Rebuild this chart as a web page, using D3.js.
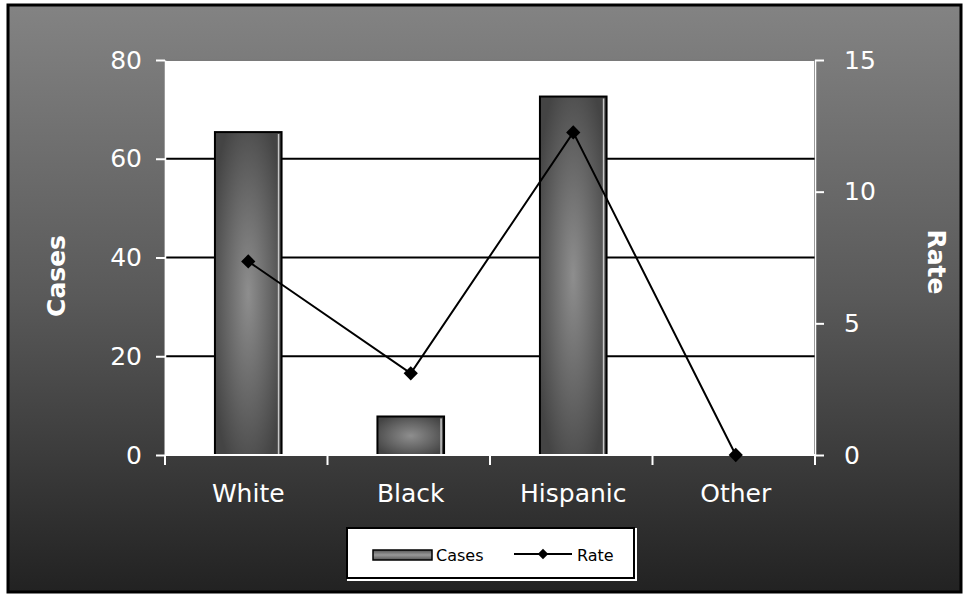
<!DOCTYPE html>
<html>
<head>
<meta charset="utf-8">
<script src="https://cdn.jsdelivr.net/npm/d3@7"></script>
<style>
  html, body { margin: 0; padding: 0; background: #fff; }
  svg { display: block; }
</style>
</head>
<body>
<div id="chart"></div>
<script>
// Cases (bars, left axis) and Rate (line, right axis) by race/ethnicity
var categories = ['White', 'Black', 'Hispanic', 'Other'];
var cases = [65.4, 7.8, 72.6, 0];
var rates = [7.35, 3.1, 12.25, 0];
var casesTicks = [0, 20, 40, 60, 80];
var rateTicks = [0, 5, 10, 15];

var W = 964, H = 594;
var FONT = "'DejaVu Sans', Verdana, sans-serif";
var plot = { left: 165, right: 815, top: 60, bottom: 455 };
var shift = 2; // marks sit slightly right of band centres

var svg = d3.select('#chart').append('svg')
    .attr('width', W).attr('height', H);

var defs = svg.append('defs');
var bg = defs.append('linearGradient').attr('id', 'bg')
    .attr('x1', 0).attr('y1', 0).attr('x2', 0).attr('y2', 1);
bg.append('stop').attr('offset', '0%').attr('stop-color', '#838383');
bg.append('stop').attr('offset', '50%').attr('stop-color', '#595959');
bg.append('stop').attr('offset', '100%').attr('stop-color', '#222222');

var barGrad = defs.append('radialGradient').attr('id', 'barGrad')
    .attr('cx', '50%').attr('cy', '50%').attr('r', '60%');
barGrad.append('stop').attr('offset', '0%').attr('stop-color', '#8e8e8e');
barGrad.append('stop').attr('offset', '55%').attr('stop-color', '#666666');
barGrad.append('stop').attr('offset', '100%').attr('stop-color', '#444444');

var legGrad = defs.append('linearGradient').attr('id', 'legGrad')
    .attr('x1', 0).attr('y1', 0).attr('x2', 0).attr('y2', 1);
legGrad.append('stop').attr('offset', '0%').attr('stop-color', '#555');
legGrad.append('stop').attr('offset', '50%').attr('stop-color', '#999');
legGrad.append('stop').attr('offset', '100%').attr('stop-color', '#555');

// chart background + frame
svg.append('rect')
    .attr('x', 8).attr('y', 5).attr('width', 953).attr('height', 587)
    .attr('fill', 'url(#bg)')
    .attr('stroke', '#000').attr('stroke-width', 3);

// scales
var x = d3.scaleBand().domain(categories)
    .range([plot.left, plot.right]).paddingInner(0.59).paddingOuter(0.295);
var xBand = d3.scaleBand().domain(categories).range([plot.left, plot.right]);
var yL = d3.scaleLinear().domain([0, 80]).range([plot.bottom, plot.top]);
var yR = d3.scaleLinear().domain([0, 15]).range([plot.bottom, plot.top]);

// plot area
svg.append('rect')
    .attr('x', plot.left).attr('y', plot.top)
    .attr('width', plot.right - plot.left).attr('height', plot.bottom - plot.top)
    .attr('fill', '#fff')
    .attr('stroke', '#7a7a7a').attr('stroke-width', 2);

// gridlines
svg.append('g').selectAll('line').data(casesTicks.filter(function (d) { return d > 0 && d < 80; }))
    .join('line')
    .attr('x1', plot.left).attr('x2', plot.right)
    .attr('y1', function (d) { return yL(d); })
    .attr('y2', function (d) { return yL(d); })
    .attr('stroke', '#000').attr('stroke-width', 2);

// bars
svg.append('g').selectAll('rect').data(categories).join('rect')
    .attr('x', function (d) { return x(d) + shift; })
    .attr('y', function (d, i) { return yL(cases[i]); })
    .attr('width', x.bandwidth())
    .attr('height', function (d, i) { return plot.bottom - yL(cases[i]); })
    .attr('fill', 'url(#barGrad)')
    .attr('stroke', '#000').attr('stroke-width', 2)
    .style('display', function (d, i) { return cases[i] > 0 ? null : 'none'; });

// bar highlight on right edge
svg.append('g').selectAll('line').data(categories).join('line')
    .attr('x1', function (d) { return x(d) + shift + x.bandwidth() - 3; })
    .attr('x2', function (d) { return x(d) + shift + x.bandwidth() - 3; })
    .attr('y1', function (d, i) { return yL(cases[i]) + 2; })
    .attr('y2', plot.bottom - 1)
    .attr('stroke', '#c8c8c8').attr('stroke-width', 1.5)
    .style('display', function (d, i) { return cases[i] > 0 ? null : 'none'; });

// axes
var axL = d3.axisLeft(yL).tickValues(casesTicks).tickSize(9).tickSizeOuter(0).tickPadding(14);
var axR = d3.axisRight(yR).tickValues(rateTicks).tickSize(9).tickSizeOuter(0).tickPadding(20);

function styleAxis(g) {
    g.selectAll('path,line').attr('stroke', '#fff').attr('stroke-width', 2);
    g.selectAll('text').attr('fill', '#fff')
        .attr('font-size', 25).attr('font-family', FONT);
}

var gl = svg.append('g').attr('transform', 'translate(' + plot.left + ',0)').call(axL);
styleAxis(gl);
gl.select('.domain').attr('stroke-width', 1.5);
var gr = svg.append('g').attr('transform', 'translate(' + plot.right + ',0)').call(axR);
styleAxis(gr);
gr.select('.domain').attr('stroke-width', 1.5);

// bottom axis line + category boundary ticks
var gb = svg.append('g');
gb.append('line')
    .attr('x1', plot.left).attr('x2', plot.right)
    .attr('y1', plot.bottom).attr('y2', plot.bottom)
    .attr('stroke', '#fff').attr('stroke-width', 2);
var bounds = categories.map(function (d) { return xBand(d); }).concat([plot.right]);
gb.selectAll('line.tk').data(bounds).join('line').attr('class', 'tk')
    .attr('x1', function (d) { return d; }).attr('x2', function (d) { return d; })
    .attr('y1', plot.bottom).attr('y2', plot.bottom + 10)
    .attr('stroke', '#fff').attr('stroke-width', 2);
gb.selectAll('text').data(categories).join('text')
    .attr('x', function (d) { return xBand(d) + xBand.bandwidth() / 2 + shift; })
    .attr('y', 502)
    .attr('text-anchor', 'middle')
    .attr('fill', '#fff').attr('font-size', 25).attr('font-family', FONT)
    .text(function (d) { return d; });

// rate line
function cx(i) { return xBand(categories[i]) + xBand.bandwidth() / 2 + shift; }
var line = d3.line()
    .x(function (d, i) { return cx(i); })
    .y(function (d) { return yR(d); });
svg.append('path').datum(rates)
    .attr('d', line)
    .attr('fill', 'none').attr('stroke', '#000').attr('stroke-width', 2);
var diamond = d3.symbol().type(d3.symbolDiamond2).size(130);
svg.append('g').selectAll('path').data(rates).join('path')
    .attr('transform', function (d, i) { return 'translate(' + cx(i) + ',' + yR(d) + ')'; })
    .attr('d', diamond)
    .attr('fill', '#000');

// axis titles
svg.append('text')
    .attr('transform', 'translate(65,276) rotate(-90)')
    .attr('text-anchor', 'middle')
    .attr('fill', '#fff').attr('font-size', 25).attr('font-weight', 'bold')
    .attr('font-family', FONT)
    .text('Cases');
svg.append('text')
    .attr('transform', 'translate(928,262) rotate(90)')
    .attr('text-anchor', 'middle')
    .attr('fill', '#fff').attr('font-size', 25).attr('font-weight', 'bold')
    .attr('font-family', FONT)
    .text('Rate');

// legend
var leg = svg.append('g').attr('transform', 'translate(347,528)');
leg.append('rect')
    .attr('x', 1).attr('y', 1).attr('width', 288).attr('height', 51)
    .attr('fill', 'none').attr('stroke', '#fff').attr('stroke-width', 2);
leg.append('rect')
    .attr('x', 0).attr('y', 0).attr('width', 287).attr('height', 50)
    .attr('fill', '#fff').attr('stroke', '#000').attr('stroke-width', 2);
leg.append('rect')
    .attr('x', 26).attr('y', 22).attr('width', 59).attr('height', 10)
    .attr('fill', 'url(#legGrad)').attr('stroke', '#000').attr('stroke-width', 1.5);
leg.append('text')
    .attr('x', 89).attr('y', 33)
    .attr('font-size', 16).attr('font-family', FONT).attr('fill', '#000')
    .text('Cases');
leg.append('line')
    .attr('x1', 167).attr('x2', 225).attr('y1', 26).attr('y2', 26)
    .attr('stroke', '#000').attr('stroke-width', 2);
leg.append('path')
    .attr('transform', 'translate(196,26)')
    .attr('d', d3.symbol().type(d3.symbolDiamond2).size(70))
    .attr('fill', '#000');
leg.append('text')
    .attr('x', 230).attr('y', 33)
    .attr('font-size', 16).attr('font-family', FONT).attr('fill', '#000')
    .text('Rate');
</script>
</body>
</html>
